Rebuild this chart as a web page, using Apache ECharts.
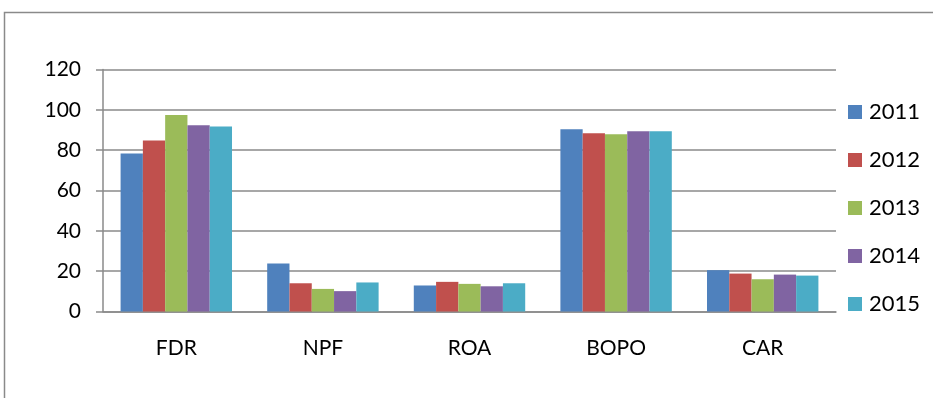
<!DOCTYPE html>
<html>
<head>
<meta charset="utf-8">
<script src="https://cdn.jsdelivr.net/npm/echarts@6/dist/echarts.min.js"></script>
<style>
  html, body { margin: 0; padding: 0; background: #fff; }
  #chart { width: 933px; height: 398px; }
</style>
</head>
<body>
<div id="chart"></div>
<script>
// Financial ratios per year
const categories = ['FDR', 'NPF', 'ROA', 'BOPO', 'CAR'];
const years = ['2011', '2012', '2013', '2014', '2015'];
const v2011 = [78.3, 23.8, 12.9, 90.4, 20.5];
const v2012 = [84.8, 14.0, 14.7, 88.4, 18.8];
const v2013 = [97.5, 11.2, 13.7, 87.9, 16.0];
const v2014 = [92.4, 10.1, 12.5, 89.4, 18.3];
const v2015 = [91.7, 14.4, 14.0, 89.4, 17.8];
const yTicks = [0, 20, 40, 60, 80, 100, 120];

const colors = ['#4F81BD', '#C0504D', '#9BBB59', '#8064A2', '#4BACC6'];
const values = [v2011, v2012, v2013, v2014, v2015];
const font = 'Lato, "Open Sans", sans-serif';

const chart = echarts.init(document.getElementById('chart'), null, { renderer: 'canvas' });
chart.setOption({
  animation: false,
  color: colors,
  grid: { left: 103, right: 97, top: 69.5, bottom: 86.5, containLabel: false },
  graphic: [{
    type: 'polyline',
    shape: { points: [[4.5, 398], [4.5, 12.5], [933, 12.5]] },
    style: { stroke: '#8a8a8a', lineWidth: 1.5, fill: null },
    silent: true
  }],
  legend: {
    orient: 'vertical',
    left: 843,
    top: 96,
    itemWidth: 14,
    itemHeight: 14,
    itemGap: 26,
    icon: 'rect',
    data: years,
    textStyle: { fontFamily: font, fontSize: 22, color: '#000', lineHeight: 22, padding: [0, 0, 0, 2] }
  },
  xAxis: {
    type: 'category',
    data: categories,
    axisLine: { lineStyle: { color: '#8a8a8a', width: 1.5 } },
    axisTick: { length: 7, lineStyle: { color: '#8a8a8a', width: 1.5 } },
    axisLabel: { fontFamily: font, fontSize: 21, color: '#000', margin: 26 }
  },
  yAxis: {
    type: 'value',
    min: yTicks[0],
    max: yTicks[yTicks.length - 1],
    interval: 20,
    axisLine: { show: true, lineStyle: { color: '#8a8a8a', width: 1.5 } },
    axisTick: { show: true, length: 7, lineStyle: { color: '#8a8a8a', width: 1.5 } },
    splitLine: { lineStyle: { color: '#8a8a8a', width: 1.5 } },
    axisLabel: { fontFamily: font, fontSize: 21, color: '#000', margin: 22 }
  },
  series: years.map((y, i) => ({
    name: y,
    type: 'bar',
    data: values[i],
    barGap: '0%',
    barCategoryGap: '24%',
    itemStyle: { color: colors[i] }
  }))
});
</script>
</body>
</html>
